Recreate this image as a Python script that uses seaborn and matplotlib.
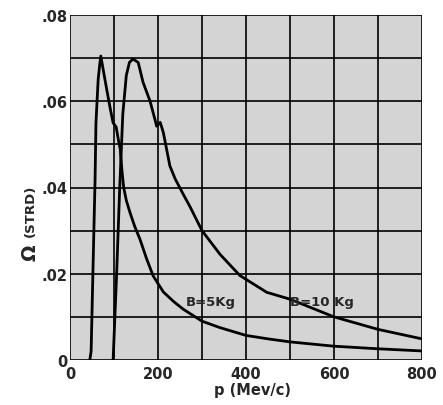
import numpy as np
import pandas as pd
import matplotlib
matplotlib.use("Agg")
import matplotlib.pyplot as plt
import seaborn as sns

# Data
p_5kg = [45, 48, 52, 57, 59, 64, 67, 70, 76, 83, 92, 98, 105, 110, 114, 118, 122, 128,
         136, 147, 159, 174, 189, 212, 235, 257, 280, 300, 341, 400, 450, 500, 600, 700, 800]
omega_5kg = [0.0, 0.002, 0.02, 0.042, 0.055, 0.065, 0.068, 0.0705, 0.067, 0.063, 0.058,
             0.055, 0.054, 0.051, 0.049, 0.044, 0.040, 0.037, 0.0343, 0.031, 0.028, 0.0235,
             0.0195, 0.0158, 0.0136, 0.0118, 0.0103, 0.0090, 0.0075, 0.0057, 0.0049, 0.0042,
             0.0032, 0.0026, 0.0021]

p_10kg = [98, 106, 113, 120, 128, 135, 143, 155, 166, 182, 193, 197, 205, 212, 227, 239,
          257, 273, 300, 341, 386, 447, 500, 600, 700, 800]
omega_10kg = [0.0, 0.02, 0.04, 0.057, 0.066, 0.069, 0.0698, 0.069, 0.0644, 0.060, 0.0558,
              0.0542, 0.0551, 0.0528, 0.045, 0.042, 0.0385, 0.0355, 0.030, 0.0245, 0.0196,
              0.0157, 0.0141, 0.0100, 0.0071, 0.0049]

x_ticks = [0, 200, 400, 600, 800]
x_tick_labels = ["0", "200", "400", "600", "800"]
y_ticks = [0, 0.02, 0.04, 0.06, 0.08]
y_tick_labels = ["0", ".02", ".04", ".06", ".08"]

df = pd.concat([
    pd.DataFrame({"p": p_5kg, "omega": omega_5kg, "B": "5"}),
    pd.DataFrame({"p": p_10kg, "omega": omega_10kg, "B": "10"}),
])

sns.set_theme(style="white")
plt.rcParams["font.family"] = ["DejaVu Sans"]
plt.rcParams["font.weight"] = "bold"

fig = plt.figure(figsize=(4.43, 4.06), dpi=100)
W, H = 443, 406
ax = fig.add_axes([70 / W, (H - 361) / H, (422 - 70) / W, (361 - 16) / H])
ax.set_facecolor("#d4d4d4")

sns.lineplot(data=df, x="p", y="omega", units="B", estimator=None, color="black",
             linewidth=2.0, ax=ax, sort=False, legend=False, zorder=3)

ax.set_xlim(0, 800)
ax.set_ylim(0, 0.08)
ax.set_xticks(np.arange(0, 801, 100), minor=True)
ax.set_yticks(np.arange(0, 0.0801, 0.01), minor=True)
ax.set_xticks(x_ticks, x_tick_labels)
ax.set_yticks(y_ticks, y_tick_labels)
ax.grid(True, which="both", color="black", linewidth=1.2, zorder=1)
ax.set_axisbelow(True)
ax.tick_params(which="both", length=0, labelsize=10.5)
ax.tick_params(axis="x", pad=4)
ax.tick_params(axis="y", pad=2)
for s in ax.spines.values():
    s.set_visible(False)
ax.set_xlabel("")
ax.set_ylabel("")

fig.text(252 / W, 1 - 391 / H, "p (Mev/c)", fontsize=10.5, fontweight="bold",
         ha="center", va="center")
fig.text(30 / W, 1 - 253 / H, "\u03a9", fontsize=14, fontweight="bold",
         ha="center", va="center", rotation=90)
fig.text(30 / W, 1 - 211 / H, "(STRD)", fontsize=9.5, fontweight="bold",
         ha="center", va="center", rotation=90)

ax.text(264, 0.0135, "B=5Kg", fontsize=9.5, fontweight="bold", va="center", ha="left", zorder=4)
ax.text(500, 0.0136, "B=10 Kg", fontsize=9.5, fontweight="bold", va="center", ha="left", zorder=4)

fig.savefig("out.png", dpi=100)
